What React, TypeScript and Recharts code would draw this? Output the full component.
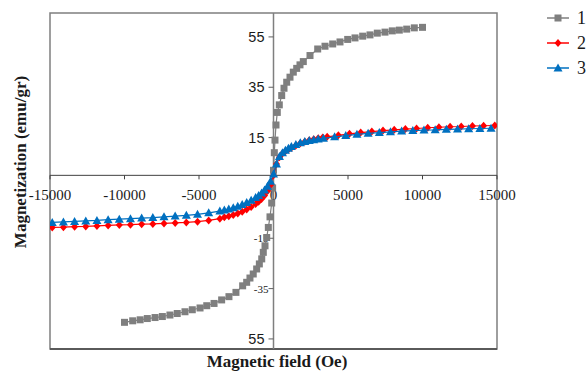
import { ScatterChart, Scatter, XAxis, YAxis, ReferenceArea, ReferenceLine, ReferenceDot } from "recharts";

// sample 1 (gray squares)
const fieldGray = [
  -10000, -9450, -8950, -8470, -7950, -7460, -6950, -6460, -5940, -5450, -4930, -4480, -3990, -3480, -2990, -2520,
  -2070, -1800, -1580, -1360, -1130, -950, -790, -685, -570, -456, -347, -235, -120, -60, 0, 55, 100, 168, 255, 389,
  550, 705, 886, 1107, 1329, 1557, 1778, 2000, 2450, 2966, 3456, 3973, 4463, 4979, 5470, 5986, 6476, 6967, 7483,
  7973, 8444, 8940, 9450, 10000,
];
const magGray = [
  -58.4, -57.8, -57.4, -56.9, -56.5, -56.1, -55.5, -54.9, -54.2, -53.4, -52.7, -51.8, -50.9, -49.5, -48.2, -46.5,
  -43.9, -42.5, -40.8, -39.2, -37.2, -35.2, -33.2, -30.6, -28, -24.7, -20.7, -16.5, -11, -5, 2, 9, 14, 20, 25, 28,
  31.7, 34.6, 37, 39, 41, 42.5, 43.9, 45.2, 47.6, 50.2, 51.3, 52.2, 53, 54, 54.6, 55.3, 55.8, 56.5, 56.9, 57.4, 57.7,
  58.1, 58.6, 58.8,
];

// sample 2 (red diamonds)
const fieldRed = [
  -14850, -14100, -13350, -12600, -11850, -11100, -10350, -9600, -8850, -8100, -7350, -6600, -5850, -5100, -4350,
  -3600, -3300, -3000, -2700, -2400, -2100, -1800, -1500, -1200, -1000, -800, -600, -400, -200, 0, 200, 400, 600,
  800, 1000, 1200, 1500, 1800, 2100, 2400, 2700, 3000, 3300, 3600, 4350, 5100, 5850, 6600, 7350, 8100, 8850, 9600,
  10350, 11100, 11850, 12600, 13350, 14100, 14850,
];
const magRed = [
  -20.7, -20.6, -20.4, -20.3, -20.1, -19.9, -19.7, -19.6, -19.4, -19.3, -19.1, -18.9, -18.7, -18.4, -17.9, -17.2,
  -16.7, -16.3, -15.8, -15.2, -14.5, -13.6, -12.6, -11.4, -10.5, -9.4, -8, -6.2, -3.8, 0, 4.5, 7.2, 8.7, 9.6, 10.3,
  11, 11.9, 12.7, 13.3, 13.9, 14.3, 14.7, 15, 15.3, 15.9, 16.5, 17, 17.4, 17.8, 18.1, 18.4, 18.6, 18.9, 19.1, 19.3,
  19.4, 19.6, 19.7, 19.8,
];

// sample 3 (blue triangles)
const fieldBlue = [
  -14850, -14100, -13350, -12600, -11850, -11100, -10350, -9600, -8850, -8100, -7350, -6600, -5850, -5100, -4350,
  -3600, -3300, -3000, -2700, -2400, -2100, -1800, -1500, -1200, -1000, -800, -600, -400, -200, 0, 200, 400, 600,
  800, 1000, 1200, 1500, 1800, 2100, 2400, 2700, 3000, 3350, 4100, 4850, 5600, 6350, 7100, 7850, 8600, 9350, 10100,
  10850, 11600, 12350, 13100, 13850, 14600,
];
const magBlue = [
  -18.7, -18.5, -18.3, -18.1, -17.9, -17.6, -17.4, -17.2, -17, -16.8, -16.5, -16.2, -15.9, -15.5, -14.9, -14.2,
  -13.8, -13.4, -12.9, -12.3, -11.6, -10.8, -9.9, -8.8, -8, -7, -5.8, -4.3, -2.3, 0.5, 4.5, 7.5, 9, 10, 10.8, 11.5,
  12.3, 12.9, 13.4, 13.8, 14.1, 14.4, 14.7, 15.3, 15.8, 16.3, 16.7, 17, 17.3, 17.6, 17.8, 18, 18.1, 18.3, 18.4, 18.5,
  18.6, 18.7,
];

const seriesNames = ["1", "2", "3"];

const xTicks = [-15000, -10000, -5000, 0, 5000, 10000, 15000];
const xTickLabels = ["-15000", "-10000", "-5000", "0", "5000", "10000", "15000"];
const yTicks = [55, 35, 15, -25, -45, -65];
const yTickLabels = ["55", "35", "15", "-15", "-35", "55"];

const X_MIN = -15000;
const X_MAX = 15000;
const Y_MIN = -69;
const Y_MAX = 64.5;

const GRAY = "#7f7f7f";
const RED = "#ff0000";
const BLUE = "#0070c0";
const SERIF = "'Liberation Serif', 'Times New Roman', serif";
const SANS = "'Liberation Sans', Arial, sans-serif";

const zip = (xs: number[], ys: number[]) => xs.map((x, i) => ({ x, y: ys[i] }));

const Square = (props: any) => (
  <rect x={props.cx - 3.5} y={props.cy - 3.5} width={7} height={7} fill={GRAY} />
);
const Diamond = (props: any) => (
  <polygon
    points={`${props.cx},${props.cy - 4} ${props.cx + 3.5},${props.cy} ${props.cx},${props.cy + 4} ${props.cx - 3.5},${props.cy}`}
    fill={RED}
  />
);
const Triangle = (props: any) => (
  <polygon
    points={`${props.cx},${props.cy - 4.5} ${props.cx + 4.5},${props.cy + 3.5} ${props.cx - 4.5},${props.cy + 3.5}`}
    fill={BLUE}
  />
);

const series = [
  { name: seriesNames[0], data: zip(fieldGray, magGray), color: GRAY, shape: Square },
  { name: seriesNames[1], data: zip(fieldRed, magRed), color: RED, shape: Diamond },
  { name: seriesNames[2], data: zip(fieldBlue, magBlue), color: BLUE, shape: Triangle },
];

function XTick(props: any, label: string, value: number) {
  const { cx, cy } = props;
  return (
    <g>
      {value !== 0 && <line x1={cx} x2={cx} y1={cy} y2={cy + 4} stroke="#404040" />}
      <text x={cx} y={cy + 20} textAnchor="middle" dominantBaseline="central" fontFamily={SERIF} fontSize={15} fill="#1a1a1a">
        {label}
      </text>
    </g>
  );
}

function YTick(props: any, label: string) {
  const { cx, cy } = props;
  const small = label.startsWith("-");
  return (
    <g>
      <line x1={cx - 5} x2={cx} y1={cy} y2={cy} stroke="#606060" />
      <text
        x={small ? cx - 5 : cx - 9}
        y={cy}
        textAnchor="end"
        dominantBaseline="central"
        fontFamily={small ? SERIF : SANS}
        fontSize={small ? 11 : 14.5}
        fill="#1a1a1a"
      >
        {label}
      </text>
    </g>
  );
}

function LegendBox() {
  const rows = [18, 43, 68];
  return (
    <svg width={60} height={90} style={{ position: "absolute", left: 540, top: 0 }}>
      {series.map((s, i) => {
        const Shape = s.shape;
        return (
          <g key={s.name}>
            <line x1={7} x2={29} y1={rows[i]} y2={rows[i]} stroke={s.color} strokeWidth={1.5} />
            <Shape cx={18} cy={rows[i]} />
            <text x={37} y={rows[i]} dominantBaseline="central" fontFamily={SERIF} fontSize={18} fill="#1a1a1a">
              {s.name}
            </text>
          </g>
        );
      })}
    </svg>
  );
}

export default function App() {
  return (
    <div style={{ position: "relative", width: 588, height: 372, background: "#fff" }}>
      <style>{`body{margin:0}`}</style>
      <ScatterChart width={588} height={372} margin={{ top: 13, right: 91, bottom: 23, left: 50 }}>
        <XAxis type="number" dataKey="x" domain={[X_MIN, X_MAX]} allowDataOverflow hide />
        <YAxis type="number" dataKey="y" domain={[Y_MIN, Y_MAX]} allowDataOverflow hide />
        <ReferenceArea x1={X_MIN} x2={X_MAX} y1={Y_MIN} y2={Y_MAX} fill="none" stroke={GRAY} strokeWidth={1.5} />
        <ReferenceLine y={Y_MIN} stroke="#5a5a5a" strokeWidth={2} />
        <ReferenceLine y={0} stroke="#404040" strokeWidth={1} />
        <ReferenceLine x={0} stroke={GRAY} strokeWidth={1.5} />
        {xTicks.map((v, i) => (
          <ReferenceDot key={"x" + v} x={v} y={0} r={0} shape={(p: any) => XTick(p, xTickLabels[i], v)} />
        ))}
        {yTicks.map((v, i) => (
          <ReferenceDot key={"y" + v} x={0} y={v} r={0} shape={(p: any) => YTick(p, yTickLabels[i])} />
        ))}
        {series.map((s) => (
          <Scatter
            key={s.name}
            name={s.name}
            data={s.data}
            line={{ stroke: s.color, strokeWidth: 1.2 }}
            shape={s.shape}
            isAnimationActive={false}
          />
        ))}
      </ScatterChart>
      <LegendBox />
      <div
        style={{
          position: "absolute",
          left: 20,
          top: 162,
          transform: "translate(-50%, -50%) rotate(-90deg)",
          whiteSpace: "nowrap",
          lineHeight: 1,
          fontFamily: SERIF,
          fontWeight: "bold",
          fontSize: 17,
          color: "#1a1a1a",
        }}
      >
        Magnetization (emu/gr)
      </div>
      <div
        style={{
          position: "absolute",
          left: 277,
          top: 361,
          transform: "translate(-50%, -50%)",
          whiteSpace: "nowrap",
          lineHeight: 1,
          fontFamily: SERIF,
          fontWeight: "bold",
          fontSize: 17,
          color: "#1a1a1a",
        }}
      >
        Magnetic field (Oe)
      </div>
    </div>
  );
}
